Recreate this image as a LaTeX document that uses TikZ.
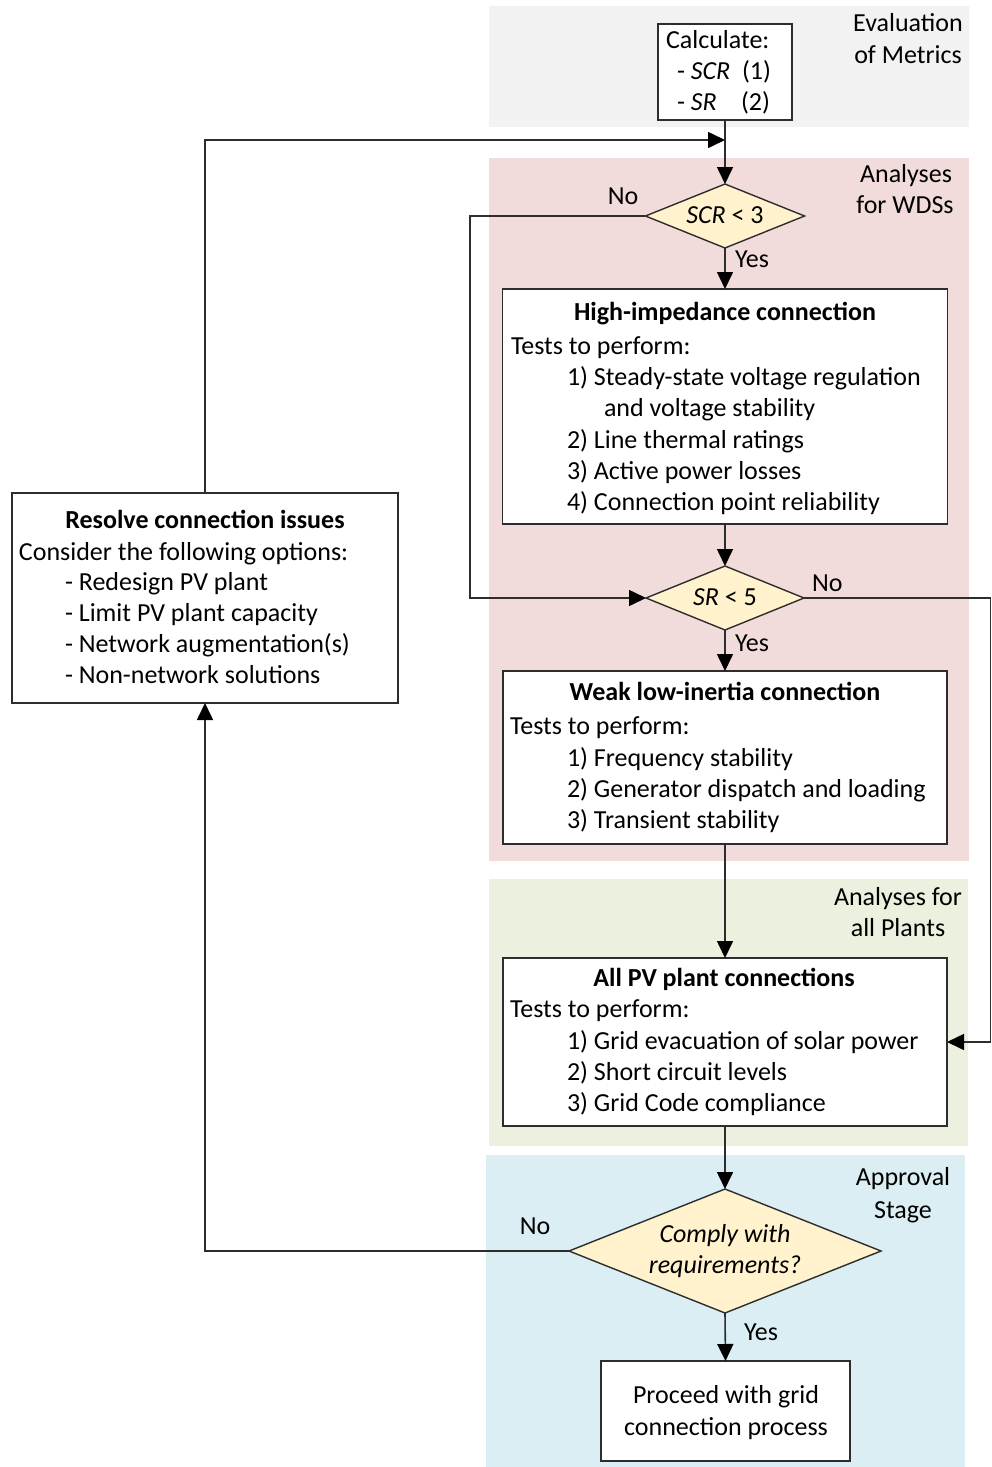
\documentclass[tikz,border=0pt]{standalone}
\usepackage{fontspec}
\setmainfont{Carlito}
\usetikzlibrary{shapes.geometric,arrows.meta}
\definecolor{bgGray}{RGB}{242,242,242}
\definecolor{bgPink}{RGB}{242,220,219}
\definecolor{bgGreen}{RGB}{235,241,222}
\definecolor{bgBlue}{RGB}{219,238,244}
\definecolor{decFill}{RGB}{255,242,204}
\definecolor{lineC}{RGB}{45,45,45}
\begin{document}
\begin{tikzpicture}[x=1pt,y=-1pt,
  every node/.style={font=\fontsize{26}{31}\selectfont, text=black, inner sep=0pt, outer sep=0pt},
  box/.style={draw=lineC, line width=1.6pt, fill=white, rectangle},
  dec/.style={draw=lineC, line width=1.4pt, fill=decFill, diamond, shape aspect=2.5},
  lbl/.style={anchor=base west},
  ctr/.style={anchor=base},
  conn/.style={draw=lineC, line width=1.6pt},
  arr/.style={conn, -{Triangle[length=17pt,width=16pt,color=black]}},
]
\useasboundingbox (0,0) rectangle (992,1467);
% background bands
\fill[bgGray] (489,6) rectangle (969,127);
\fill[bgPink] (489,158) rectangle (969,861);
\fill[bgGreen] (489,879) rectangle (968,1146);
\fill[bgBlue] (486,1155) rectangle (965,1467);

% band labels
\node[ctr] (evl1) at (908,31) {Evaluation};
\node[ctr] (evl2) at (908,63) {of Metrics};
\node[ctr] (wds1) at (906,182) {Analyses};
\node[ctr] (wds2) at (905,213) {for WDSs};
\node[ctr] (alp1) at (898,905) {Analyses for};
\node[ctr] (alp2) at (898,936) {all Plants};
\node[ctr] (apr1) at (903,1185) {Approval};
\node[ctr] (apr2) at (903,1218) {Stage};

% boxes
\node[box, minimum width=134pt, minimum height=96pt] (calc) at (725,72) {};
\node[box, minimum width=445pt, minimum height=235pt] (high) at (725,406.5) {};
\node[box, minimum width=444pt, minimum height=173pt] (weak) at (725,757.5) {};
\node[box, minimum width=444pt, minimum height=168pt] (allpv) at (725,1042) {};
\node[box, minimum width=249pt, minimum height=100pt] (proc) at (725.5,1411) {};
\node[box, minimum width=386pt, minimum height=210pt] (res) at (205,598) {};

% decisions
\node[dec, minimum width=159pt, minimum height=64pt, text height=17pt, text depth=3pt] (scr) at (725,216) {\textit{SCR} < 3};
\node[dec, minimum width=158pt, minimum height=64pt, text height=17pt, text depth=3pt] (sr) at (725,598) {\textit{SR} < 5};
\node[dec, minimum width=312pt, minimum height=124pt, align=center] (comply) at (725,1251) {\raisebox{-3pt}{\textit{Comply with}}\\\raisebox{-3pt}{\textit{requirements?}}};

% calc text
\node[lbl] (c1) at (666,48) {Calculate:};
\node[lbl] (c2) at (677,79) {- \textit{SCR}};
\node[lbl] (c3) at (742,79) {(1)};
\node[lbl] (c4) at (677,110) {- \textit{SR}};
\node[lbl] (c5) at (741,110) {(2)};

% high impedance text
\node[ctr] (h0) at (725,320) {\textbf{High-impedance connection}};
\node[lbl] (h1) at (511,354) {Tests to perform:};
\node[lbl] (h2) at (567,385) {1) Steady-state voltage regulation};
\node[lbl] (h3) at (604,416) {and voltage stability};
\node[lbl] (h4) at (567,448) {2) Line thermal ratings};
\node[lbl] (h5) at (567,479) {3) Active power losses};
\node[lbl] (h6) at (567,510) {4) Connection point reliability};

% weak text
\node[ctr] (w0) at (725,700) {\textbf{Weak low-inertia connection}};
\node[lbl] (w1) at (510,734) {Tests to perform:};
\node[lbl] (w2) at (567,766) {1) Frequency stability};
\node[lbl] (w3) at (567,797) {2) Generator dispatch and loading};
\node[lbl] (w4) at (567,828) {3) Transient stability};

% all pv text
\node[ctr] (a0) at (724,986) {\textbf{All PV plant connections}};
\node[lbl] (a1) at (510,1017) {Tests to perform:};
\node[lbl] (a2) at (567,1049) {1) Grid evacuation of solar power};
\node[lbl] (a3) at (567,1080) {2) Short circuit levels};
\node[lbl] (a4) at (567,1111) {3) Grid Code compliance};

% resolve text
\node[ctr] (r0) at (205,528) {\textbf{Resolve connection issues}};
\node[lbl] (r1) at (19,560) {Consider the following options:};
\node[lbl] (r2) at (65,590) {- Redesign PV plant};
\node[lbl] (r3) at (65,621) {- Limit PV plant capacity};
\node[lbl] (r4) at (65,652) {- Network augmentation(s)};
\node[lbl] (r5) at (65,683) {- Non-network solutions};

% proceed text
\node[ctr] (p1) at (726,1403) {Proceed with grid};
\node[ctr] (p2) at (726,1435) {connection process};

% connectors
\coordinate (j1) at (725,140);
\coordinate (lft) at (470,216);
\coordinate (rgt) at (990.5,598);
\coordinate (lb) at (205,1251);
\draw[arr] (calc.south) -- (scr.north);
\draw[arr] (res.north) |- (j1);
\draw[arr] (scr.west) -- (lft) |- (sr.west);
\draw[arr] (scr.south) -- (high.north);
\draw[arr] (high.south) -- (sr.north);
\draw[arr] (sr.east) -- (rgt) |- (allpv.east);
\draw[arr] (sr.south) -- (weak.north);
\draw[arr] (weak.south) -- (allpv.north);
\draw[arr] (allpv.south) -- (comply.north);
\draw[arr] (comply.west) -- (lb) -- (res.south);
\draw[arr] (comply.south) -- (proc.north);

% connector labels
\node[ctr] (n1) at (623,204) {No};
\node[lbl] (y1) at (735,267) {Yes};
\node[lbl] (n2) at (812,591) {No};
\node[lbl] (y2) at (735,651) {Yes};
\node[ctr] (n3) at (535,1234) {No};
\node[lbl] (y3) at (744,1340) {Yes};
\end{tikzpicture}
\end{document}
